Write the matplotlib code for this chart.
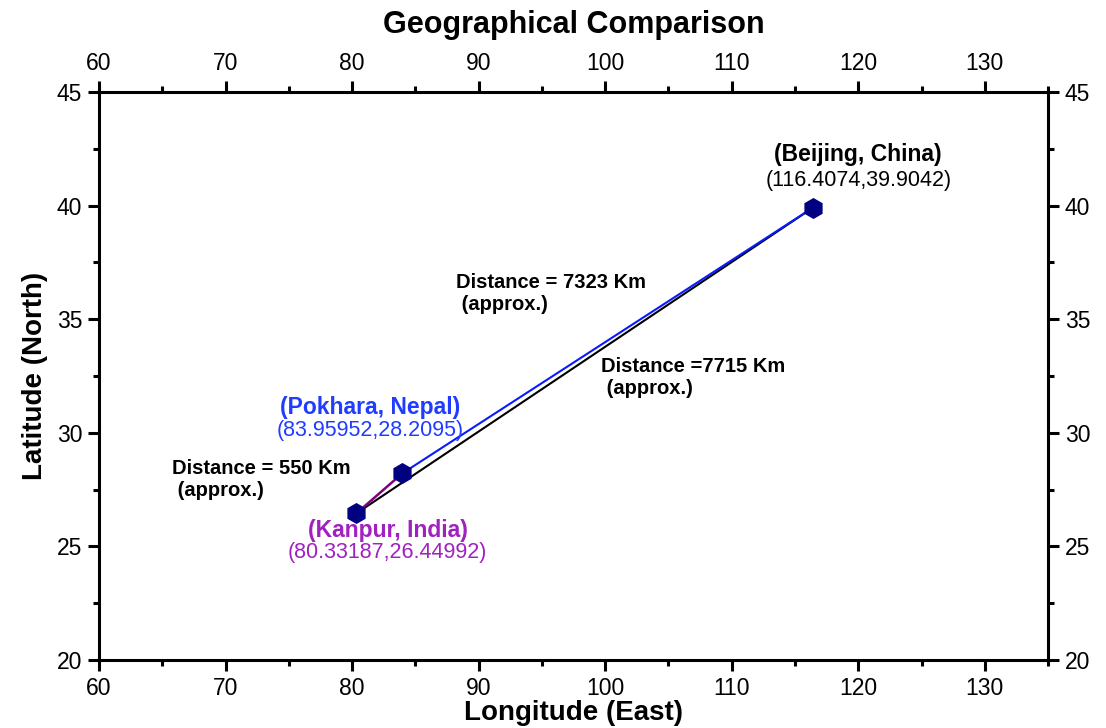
import matplotlib.pyplot as plt
from matplotlib.ticker import MultipleLocator

plt.rcParams["font.family"] = ["Liberation Sans", "DejaVu Sans"]

# city coordinates (longitude east, latitude north)
cities = ["Kanpur, India", "Pokhara, Nepal", "Beijing, China"]
lon = [80.33187, 83.95952, 116.4074]
lat = [26.44992, 28.2095, 39.9042]
coord_text = ["(80.33187,26.44992)", "(83.95952,28.2095)", "(116.4074,39.9042)"]
label_colors = ["#a020c0", "#1f3cff", "black"]

# approximate great-circle distances
dist_kanpur_pokhara = 550
dist_pokhara_beijing = 7323
dist_kanpur_beijing = 7715

fig, ax = plt.subplots(figsize=(11.06, 7.28), dpi=100)
fig.subplots_adjust(left=0.0895, right=0.9476, top=0.8736, bottom=0.0934)

# connecting lines
ax.plot([lon[0], lon[2]], [lat[0], lat[2]], color="black", lw=1.5, zorder=2)
ax.plot([lon[1], lon[2]], [lat[1], lat[2]], color="#0a1aff", lw=1.5, zorder=2)
ax.plot([lon[0], lon[1]], [lat[0], lat[1]], color="#800080", lw=1.8, zorder=2)

# city markers
ax.plot(lon, lat, linestyle="none", marker="h", markersize=14,
        color="#000080", zorder=3)

# city names and coordinates
name_pos = [(82.8, 25.7), (81.4, 31.1), (120.0, 42.25)]
coord_pos = [(82.8, 24.72), (81.4, 30.1), (120.0, 41.1)]
for i in range(len(cities)):
    ax.text(*name_pos[i], f"({cities[i]})", color=label_colors[i],
            fontsize=16.5, fontweight="bold", ha="center", va="center")
    ax.text(*coord_pos[i], coord_text[i], color=label_colors[i],
            fontsize=15.5, ha="center", va="center")

# distance notes
note = dict(fontsize=14.5, fontweight="bold", ha="left", va="center",
            linespacing=1.2)
ax.text(65.8, 27.95, f"Distance = {dist_kanpur_pokhara} Km\n (approx.)", **note)
ax.text(88.2, 36.15, f"Distance = {dist_pokhara_beijing} Km\n (approx.)", **note)
ax.text(99.7, 32.45, f"Distance ={dist_kanpur_beijing} Km\n (approx.)", **note)

ax.set_xlim(60, 135)
ax.set_ylim(20, 45)
ax.xaxis.set_major_locator(MultipleLocator(10))
ax.xaxis.set_minor_locator(MultipleLocator(5))
ax.yaxis.set_major_locator(MultipleLocator(5))
ax.yaxis.set_minor_locator(MultipleLocator(2.5))

for s in ax.spines.values():
    s.set_linewidth(2.2)
ax.tick_params(which="both", direction="out", width=2.2,
               top=True, right=True, labeltop=True, labelright=True,
               labelsize=16.5, pad=4)
ax.tick_params(which="major", length=8)
ax.tick_params(which="minor", length=4)

ax.set_xlabel("Longitude (East)", fontsize=20, fontweight="bold", labelpad=0)
ax.set_ylabel("Latitude (North)", fontsize=20, fontweight="bold", labelpad=6)
ax.set_title("Geographical Comparison", fontsize=22, fontweight="bold", pad=14)

fig.savefig("out.png", dpi=100)
